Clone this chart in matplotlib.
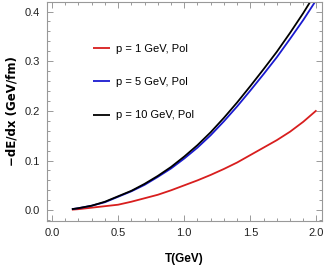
import matplotlib
matplotlib.use('Agg')
import matplotlib.pyplot as plt
from matplotlib.ticker import MultipleLocator
from matplotlib import font_manager

# values
T = [0.15, 0.2, 0.3, 0.4, 0.5, 0.6, 0.7, 0.8, 0.9, 1.0, 1.1,
     1.2, 1.3, 1.4, 1.5, 1.6, 1.7, 1.8, 1.9, 2.0]
loss_p1 = [0.001, 0.002, 0.005, 0.008, 0.011, 0.017, 0.024, 0.031, 0.040, 0.050, 0.060,
           0.071, 0.083, 0.096, 0.111, 0.126, 0.141, 0.158, 0.178, 0.201]
loss_p5 = [0.002, 0.004, 0.009, 0.016, 0.027, 0.038, 0.051, 0.067, 0.084, 0.104, 0.126,
           0.151, 0.179, 0.209, 0.241, 0.274, 0.308, 0.345, 0.383, 0.424]
loss_p10 = [0.002, 0.004, 0.009, 0.017, 0.028, 0.039, 0.053, 0.069, 0.087, 0.108, 0.131,
            0.157, 0.186, 0.217, 0.250, 0.284, 0.319, 0.357, 0.397, 0.440]
labels = ['p = 1 GeV, Pol', 'p = 5 GeV, Pol', 'p = 10 GeV, Pol']
colors = ['#d81e1e', '#1a1ad0', 'black']

names = {f.name for f in font_manager.fontManager.ttflist}
narrow = 'Liberation Sans Narrow' if 'Liberation Sans Narrow' in names else 'Liberation Sans'
plt.rcParams['font.family'] = [narrow, 'DejaVu Sans']

fig = plt.figure(figsize=(3.27, 2.73), dpi=100)
ax = fig.add_axes([0.143, 0.192, 0.841, 0.802])

for y, c, lab in zip([loss_p1, loss_p5, loss_p10], colors, labels):
    ax.plot(T, y, color=c, lw=1.3, label=lab, solid_capstyle='butt')

ax.set_xlim(-0.04, 2.04)
ax.set_ylim(-0.021, 0.42)
ax.xaxis.set_major_locator(MultipleLocator(0.5))
ax.xaxis.set_minor_locator(MultipleLocator(0.1))
ax.yaxis.set_major_locator(MultipleLocator(0.1))
ax.yaxis.set_minor_locator(MultipleLocator(0.02))
ax.xaxis.set_major_formatter(plt.FormatStrFormatter('%.1f'))
ax.yaxis.set_major_formatter(plt.FormatStrFormatter('%.1f'))

for s in ax.spines.values():
    s.set_color('#999999')
    s.set_linewidth(0.8)
ax.tick_params(which='both', direction='in', top=True, right=True,
               color='#999999', width=0.7, labelsize=8, labelcolor='#222222')
ax.tick_params(which='major', length=4.5, pad=5)
ax.tick_params(which='minor', length=2.5)

ax.set_xlabel('T(GeV)', fontsize=8.5, fontweight='bold', labelpad=11)
ax.set_ylabel('\u2212dE/dx (GeV/fm)', fontsize=8.5, fontweight='bold',
              family=['DejaVu Sans'], labelpad=4)

ax.legend(loc='upper left', bbox_to_anchor=(0.13, 0.853), frameon=False,
          fontsize=8, handlelength=1.6, handletextpad=0.55, labelspacing=2.1)

fig.savefig('out.png', dpi=100)
